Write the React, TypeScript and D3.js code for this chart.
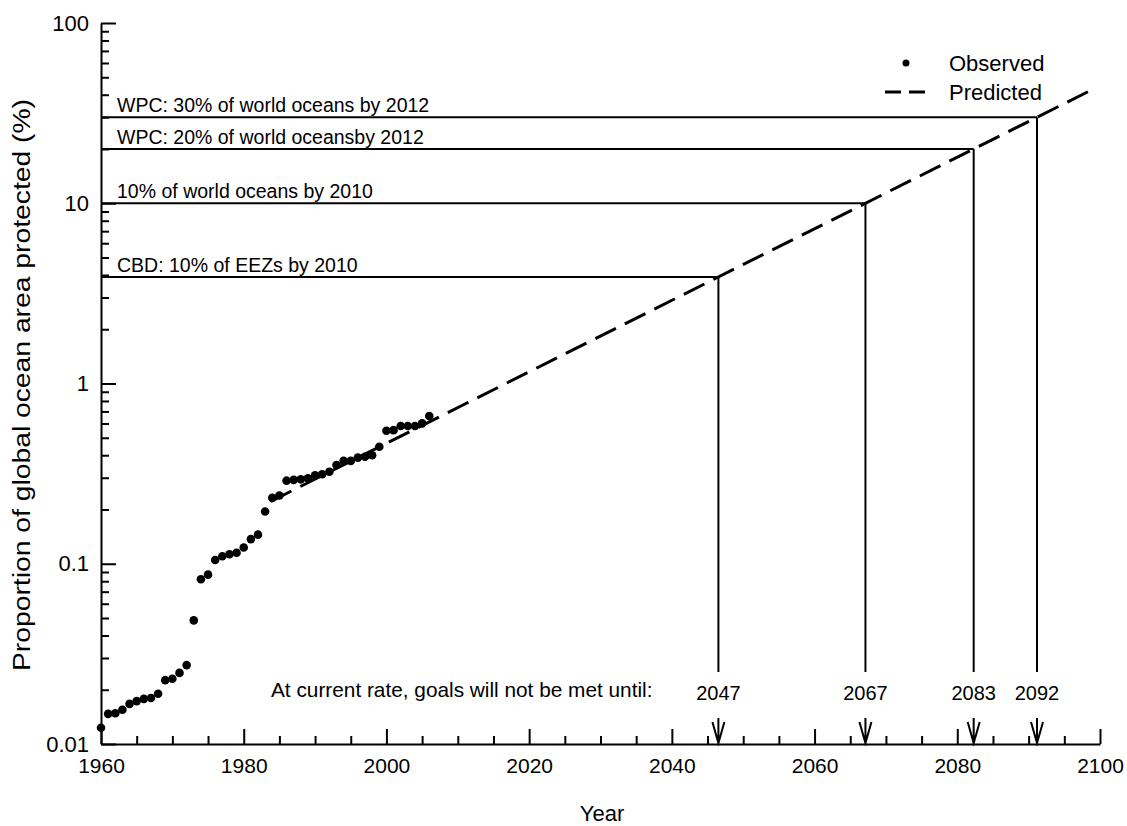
import React, { useEffect, useRef } from "react";
import * as d3 from "d3";

const WIDTH = 1127;
const HEIGHT = 826;
const FONT = "'Liberation Sans', Arial, sans-serif";

// observed proportion of ocean protected, one point per year
const observedYears = [
  1960, 1961, 1962, 1963, 1964, 1965, 1966, 1967, 1968, 1969,
  1970, 1971, 1972, 1973, 1974, 1975, 1976, 1977, 1978, 1979,
  1980, 1981, 1982, 1983, 1984, 1985, 1986, 1987, 1988, 1989,
  1990, 1991, 1992, 1993, 1994, 1995, 1996, 1997, 1998, 1999,
  2000, 2001, 2002, 2003, 2004, 2005, 2006,
];
const observedValues = [
  0.0123, 0.0147, 0.0148, 0.0155, 0.0167, 0.0173, 0.0178, 0.018, 0.019, 0.0226,
  0.023, 0.0248, 0.0274, 0.0485, 0.082, 0.087, 0.105, 0.11, 0.113, 0.115,
  0.123, 0.137, 0.145, 0.195, 0.232, 0.239, 0.289, 0.292, 0.294, 0.298,
  0.31, 0.314, 0.324, 0.353, 0.372, 0.372, 0.388, 0.392, 0.4, 0.446,
  0.547, 0.551, 0.581, 0.581, 0.581, 0.601, 0.66,
];

// predicted trend (straight on the log axis)
const predictedYears = [1983.8, 2099];
const predictedValues = [0.222, 42.9];

// targets
const goalLabels = [
  "WPC: 30% of world oceans by 2012",
  "WPC: 20% of world oceansby 2012",
  "10% of world oceans by 2010",
  "CBD: 10% of EEZs by 2010",
];
const goalValues = [30, 20, 10, 3.9];
const goalYearLabels = ["2092", "2083", "2067", "2047"];

const xMajorTicks = [1960, 1980, 2000, 2020, 2040, 2060, 2080, 2100];
const xTickLabels = ["1960", "1980", "2000", "2020", "2040", "2060", "2080", "2100"];
const yMajorTicks = [0.01, 0.1, 1, 10, 100];
const yTickLabels = ["0.01", "0.1", "1", "10", "100"];

const Chart = () => {
  const svgRef = useRef<SVGSVGElement>(null);

  useEffect(() => {
    document.body.style.margin = "0";
    const svg = d3.select(svgRef.current);
    svg.selectAll("*").remove();

    const xScale = d3.scaleLinear().domain([1960, 2100]).range([101, 1100]);
    const yScale = d3.scaleLog().domain([0.01, 100]).range([744, 23]);
    const x0 = xScale(1960);
    const yBase = yScale(0.01);

    // minor ticks every 5 years / 2..9 per decade
    const xMinor = d3.range(1960, 2101, 5).filter((v) => !xMajorTicks.includes(v));
    const yMinor: number[] = [];
    [0.01, 0.1, 1, 10].forEach((d) => {
      for (let k = 2; k <= 9; k++) yMinor.push(d * k);
    });

    const xAxis = svg.append("g").attr("transform", `translate(0,${yBase})`);
    xAxis.call(
      d3.axisBottom(xScale)
        .tickValues(xMajorTicks)
        .tickSizeInner(-15)
        .tickSizeOuter(0)
        .tickPadding(14)
        .tickFormat((d, i) => xTickLabels[i])
    );
    xAxis.selectAll(".tick text").attr("font-size", 21);
    xAxis.append("g").call(
      d3.axisBottom(xScale).tickValues(xMinor).tickSizeInner(-8).tickSizeOuter(0).tickFormat(() => "")
    ).select(".domain").remove();

    const yAxis = svg.append("g").attr("transform", `translate(${x0},0)`);
    yAxis.call(
      d3.axisLeft(yScale)
        .tickValues(yMajorTicks)
        .tickSizeInner(-15)
        .tickSizeOuter(0)
        .tickPadding(12)
        .tickFormat((d, i) => yTickLabels[i])
    );
    yAxis.selectAll(".tick text").attr("font-size", 22);
    yAxis.append("g").call(
      d3.axisLeft(yScale).tickValues(yMinor).tickSizeInner(-8).tickSizeOuter(0).tickFormat(() => "")
    ).select(".domain").remove();

    svg.selectAll(".domain").attr("stroke", "#000").attr("stroke-width", 2);
    svg.selectAll(".tick line").attr("stroke", "#000").attr("stroke-width", 2);
    svg.selectAll(".tick text").attr("fill", "#000").attr("font-family", FONT);

    // predicted line + where it meets each goal
    const logV0 = Math.log10(predictedValues[0]);
    const logV1 = Math.log10(predictedValues[1]);
    const crossYear = (v: number) =>
      predictedYears[0] +
      ((Math.log10(v) - logV0) / (logV1 - logV0)) * (predictedYears[1] - predictedYears[0]);

    goalValues.forEach((v, i) => {
      const cx = xScale(crossYear(v));
      const cy = yScale(v);
      svg.append("line")
        .attr("x1", x0).attr("x2", cx).attr("y1", cy).attr("y2", cy)
        .attr("stroke", "#000").attr("stroke-width", 2);
      svg.append("line")
        .attr("x1", cx).attr("x2", cx).attr("y1", cy).attr("y2", 672)
        .attr("stroke", "#000").attr("stroke-width", 2);
      svg.append("text")
        .attr("x", x0 + 16).attr("y", cy - 5)
        .attr("font-family", FONT).attr("font-size", 19.5)
        .text(goalLabels[i]);
      svg.append("text")
        .attr("x", cx).attr("y", 700)
        .attr("text-anchor", "middle")
        .attr("font-family", FONT).attr("font-size", 20)
        .text(goalYearLabels[i]);
      // arrow down to the axis
      svg.append("path")
        .attr("d", `M${cx},718V${yBase - 1}M${cx - 6},722L${cx},${yBase - 1}L${cx + 6},722`)
        .attr("fill", "none").attr("stroke", "#000").attr("stroke-width", 2);
    });

    const line = d3.line<number>()
      .x((d, i) => xScale(predictedYears[i]))
      .y((d) => yScale(d));
    svg.append("path")
      .datum(predictedValues)
      .attr("d", line)
      .attr("fill", "none")
      .attr("stroke", "#000")
      .attr("stroke-width", 3)
      .attr("stroke-dasharray", "23,10");

    svg.append("g")
      .selectAll("circle")
      .data(observedValues)
      .join("circle")
      .attr("cx", (d, i) => xScale(observedYears[i]))
      .attr("cy", (d) => yScale(d))
      .attr("r", 4.3)
      .attr("fill", "#000");

    svg.append("text")
      .attr("x", 271).attr("y", 697)
      .attr("font-family", FONT).attr("font-size", 20.8)
      .text("At current rate, goals will not be met until:");

    // legend
    svg.append("circle").attr("cx", 906).attr("cy", 63).attr("r", 3.5).attr("fill", "#000");
    svg.append("line")
      .attr("x1", 885).attr("x2", 928).attr("y1", 92).attr("y2", 92)
      .attr("stroke", "#000").attr("stroke-width", 3).attr("stroke-dasharray", "16,8");
    svg.append("text").attr("x", 949).attr("y", 71)
      .attr("font-family", FONT).attr("font-size", 22).text("Observed");
    svg.append("text").attr("x", 949).attr("y", 100)
      .attr("font-family", FONT).attr("font-size", 22).text("Predicted");

    // axis titles
    svg.append("text")
      .attr("x", 602).attr("y", 821)
      .attr("text-anchor", "middle")
      .attr("font-family", FONT).attr("font-size", 22)
      .text("Year");
    svg.append("text")
      .attr("transform", "translate(30,385) rotate(-90)")
      .attr("text-anchor", "middle")
      .attr("font-family", FONT).attr("font-size", 23)
      .attr("textLength", 572)
      .attr("lengthAdjust", "spacingAndGlyphs")
      .text("Proportion of global ocean area protected (%)");
  }, []);

  return <svg ref={svgRef} width={WIDTH} height={HEIGHT} style={{ display: "block", background: "#fff" }}></svg>;
};

export default function App() {
  return <Chart />;
}
